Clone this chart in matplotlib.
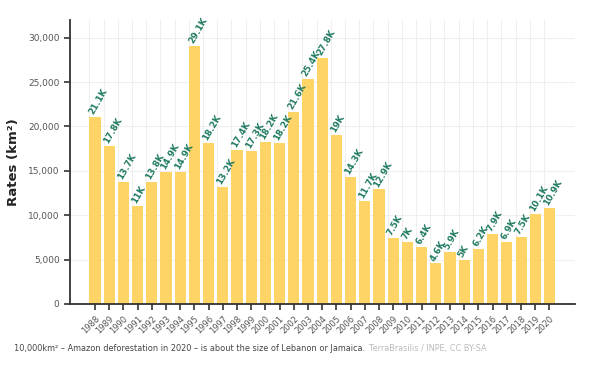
import numpy as np
import matplotlib.pyplot as plt

years = list(range(1988, 2021))
rates = [21050, 17770, 13730, 11030, 13786, 14896, 14896, 29059, 18161, 13227,
         17383, 17259, 18226, 18165, 21620, 25396, 27772, 19014, 14286, 11651,
         12911, 7464, 7000, 6418, 4571, 5891, 5012, 6207, 7893, 6947, 7536,
         10129, 10851]
yticks = [0, 5000, 10000, 15000, 20000, 25000, 30000]


def short(v):
    s = "%.1f" % (v / 1000)
    if s.endswith(".0"):
        s = s[:-2]
    return s + "K"


fig = plt.figure(figsize=(5.9, 3.67), dpi=100)
ax = fig.add_axes([0.1186, 0.1717, 0.856, 0.7738])

x = np.arange(len(years))
ax.bar(x, rates, width=0.78, color="#FFD466", zorder=2)

for xi, v in zip(x, rates):
    ax.text(xi - 0.25, v + 350, short(v), rotation=60, rotation_mode="anchor",
            ha="left", va="center", fontsize=6.3, fontweight="bold",
            color="#1f7a62", zorder=3)

ax.set_xlim(-1.76, len(years) + 0.8)
ax.set_ylim(0, 32000)
ax.set_xticks(x)
ax.set_xticklabels(years, rotation=45, ha="right", rotation_mode="anchor",
                   fontsize=6, color="#555555")
ax.set_yticks(yticks)
ax.set_yticklabels(["{:,}".format(t) for t in yticks], fontsize=6.5, color="#555555")
ax.tick_params(axis="both", length=4, width=1.2, color="#333333")

# light grid, vertical lines sit on bar edges
for xi in x:
    ax.axvline(xi - 0.39, color="#efefef", lw=0.8, zorder=0)
for t in yticks:
    ax.axhline(t, color="#efefef", lw=0.8, zorder=0)

for side in ["top", "right"]:
    ax.spines[side].set_visible(False)
for side in ["left", "bottom"]:
    ax.spines[side].set_color("#333333")
    ax.spines[side].set_linewidth(1.3)

ax.set_ylabel("Rates (km²)", fontsize=9.5, fontweight="bold", color="#222222",
              labelpad=6)

note = fig.text(0.024, 0.043,
                "10,000km² – Amazon deforestation in 2020 – is about the size of Lebanon or Jamaica.",
                fontsize=5.9, color="#444444")
ax.annotate("TerraBrasilis / INPE, CC BY-SA", xy=(1, 0), xycoords=note,
            xytext=(3, 0), textcoords="offset points", va="bottom",
            fontsize=5.9, color="#bbbbbb", annotation_clip=False)

fig.savefig("out.png", dpi=100)
